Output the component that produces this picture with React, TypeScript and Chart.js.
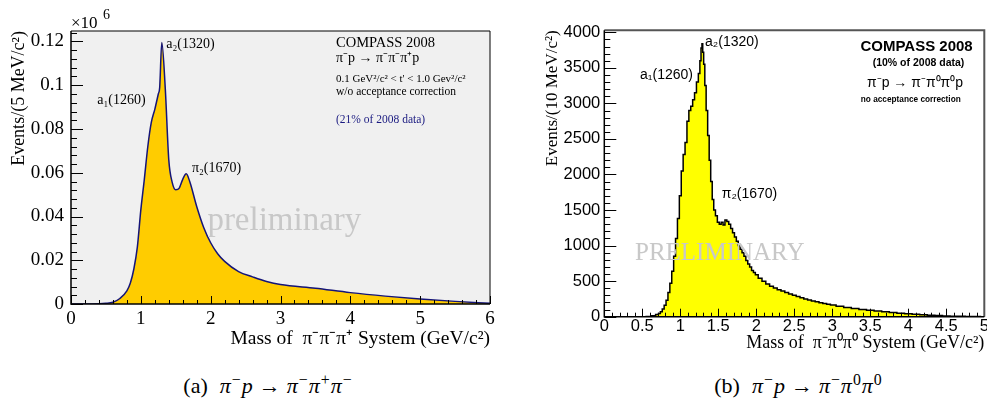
import React, { useEffect, useRef } from "react";
import { Chart, registerables } from "chart.js";
Chart.register(...registerables);

const SERIF = "'Liberation Serif', 'Times New Roman', serif";
const SANS = "'Liberation Sans', Arial, sans-serif";

// ---- Panel (a): pi- p -> pi- pi+ pi-  (events per 5 MeV/c^2, in units of 10^6)
const leftMass = [0, 0.3, 0.5, 0.6, 0.7, 0.8, 0.85, 0.9, 0.95, 1.0, 1.05, 1.1, 1.15, 1.2, 1.25, 1.27, 1.3, 1.35, 1.4, 1.45, 1.5, 1.55, 1.6, 1.65, 1.7, 1.8, 1.9, 2.0, 2.1, 2.2, 2.4, 2.6, 2.8, 3.0, 3.5, 4.0, 4.5, 5.0, 5.5, 6.0];
const leftEvents = [0, 0, 0.0003, 0.0008, 0.0025, 0.006, 0.0096, 0.016, 0.026, 0.043, 0.057, 0.072, 0.083, 0.089, 0.096, 0.099, 0.1195, 0.0985, 0.066, 0.0555, 0.0522, 0.053, 0.057, 0.0595, 0.056, 0.0446, 0.035, 0.028, 0.023, 0.0195, 0.0148, 0.0124, 0.0103, 0.0089, 0.0072, 0.0052, 0.0036, 0.0023, 0.0012, 0.0003];
const leftXTicks = [0, 1, 2, 3, 4, 5, 6];
const leftYTicks = [0, 0.02, 0.04, 0.06, 0.08, 0.1, 0.12];

// ---- Panel (b): pi- p -> pi- pi0 pi0  (events per 10 MeV/c^2)
const rightMass = [0, 0.5, 0.6, 0.65, 0.7, 0.725, 0.75, 0.775, 0.8, 0.825, 0.85, 0.875, 0.9, 0.925, 0.95, 0.975, 1.0, 1.025, 1.05, 1.075, 1.1, 1.125, 1.15, 1.175, 1.2, 1.225, 1.25, 1.265, 1.28, 1.29, 1.3, 1.315, 1.33, 1.35, 1.37, 1.39, 1.41, 1.43, 1.45, 1.475, 1.5, 1.525, 1.55, 1.575, 1.6, 1.625, 1.65, 1.675, 1.7, 1.725, 1.75, 1.775, 1.8, 1.825, 1.85, 1.875, 1.9, 1.925, 1.95, 1.975, 2.0, 2.05, 2.1, 2.15, 2.2, 2.25, 2.3, 2.35, 2.4, 2.45, 2.5, 2.55, 2.6, 2.65, 2.7, 2.75, 2.8, 2.85, 2.9, 2.95, 3.0, 3.1, 3.2, 3.3, 3.4, 3.5, 3.6, 3.7, 3.8, 3.9, 4.0, 4.1, 4.2, 4.3, 4.4, 4.5, 4.6, 4.7, 4.8, 4.9, 5.0];
const rightEvents = [0, 0, 3, 12, 30, 45, 70, 110, 160, 230, 340, 470, 640, 850, 1100, 1380, 1700, 2050, 2280, 2450, 2750, 2900, 2960, 3050, 3150, 3300, 3420, 3600, 3780, 3840, 3720, 3550, 3250, 2900, 2550, 2200, 1900, 1650, 1500, 1420, 1330, 1300, 1330, 1290, 1360, 1340, 1300, 1240, 1180, 1120, 1060, 1000, 950, 900, 850, 790, 740, 700, 650, 620, 590, 540, 500, 460, 430, 405, 380, 360, 340, 320, 300, 285, 265, 250, 235, 222, 210, 195, 185, 175, 165, 148, 130, 115, 100, 90, 80, 70, 60, 50, 42, 35, 28, 22, 16, 11, 8, 5, 3, 2, 1];
const rightXTicks = [0, 0.5, 1, 1.5, 2, 2.5, 3, 3.5, 4, 4.5, 5];
const rightYTicks = [0, 500, 1000, 1500, 2000, 2500, 3000, 3500, 4000];

type Note = { text: string; x: number; y: number; font: string; color: string; align: CanvasTextAlign };

const leftNotes: Note[] = [
  { text: "a\u2082(1320)", x: 1.363, y: 0.1189, font: `14px ${SERIF}`, color: "#000", align: "left" },
  { text: "a\u2081(1260)", x: 0.376, y: 0.0933, font: `14px ${SERIF}`, color: "#000", align: "left" },
  { text: "\u03c0\u2082(1670)", x: 1.731, y: 0.0618, font: `14px ${SERIF}`, color: "#000", align: "left" },
  { text: "COMPASS 2008", x: 3.795, y: 0.1193, font: `14.5px ${SERIF}`, color: "#000", align: "left" },
  { text: "\u03c0\u207bp \u2192 \u03c0\u207b\u03c0\u207b\u03c0\u207ap", x: 3.795, y: 0.1125, font: `14px ${SERIF}`, color: "#000", align: "left" },
  { text: "0.1 GeV\u00b2/c\u00b2 < t' < 1.0 Gev\u00b2/c\u00b2", x: 3.795, y: 0.1029, font: `11px ${SERIF}`, color: "#000", align: "left" },
  { text: "w/o acceptance correction", x: 3.795, y: 0.0969, font: `11.5px ${SERIF}`, color: "#000", align: "left" },
  { text: "(21% of 2008 data)", x: 3.795, y: 0.0841, font: `11.5px ${SERIF}`, color: "#1a1a80", align: "left" },
];
const rightNotes: Note[] = [
  { text: "a\u2082(1320)", x: 1.325, y: 3858, font: `14px ${SANS}`, color: "#000", align: "left" },
  { text: "a\u2081(1260)", x: 0.47, y: 3403, font: `14px ${SANS}`, color: "#000", align: "left" },
  { text: "\u03c0\u2082(1670)", x: 1.545, y: 1728, font: `14px ${SANS}`, color: "#000", align: "left" },
  { text: "COMPASS 2008", x: 4.847, y: 3802, font: `bold 15px ${SANS}`, color: "#000", align: "right" },
  { text: "(10% of 2008 data)", x: 4.737, y: 3572, font: `bold 10.5px ${SANS}`, color: "#000", align: "right" },
  { text: "\u03c0\u207bp \u2192 \u03c0\u207b\u03c0\u2070\u03c0\u2070p", x: 4.72, y: 3291, font: `14px ${SANS}`, color: "#000", align: "right" },
  { text: "no acceptance correction", x: 4.69, y: 3051, font: `bold 8.25px ${SANS}`, color: "#000", align: "right" },
];

type PanelStyle = {
  plotBg?: string;
  notes: Note[];
  watermark: Note;
  xStep: number; xSub: number; xMajor: number; xMinor: number;
  yStep: number; ySub: number; yMajor: number; yMinor: number;
  frameColor: string; axisColor: string; frameWidth: number;
  exponent?: boolean;
};

function rootPlugin(st: PanelStyle) {
  return {
    id: "rootStyle",
    beforeDraw(chart: any) {
      if (!st.plotBg) return;
      const { ctx, chartArea: a } = chart;
      ctx.save();
      ctx.fillStyle = st.plotBg;
      ctx.fillRect(a.left, a.top, a.right - a.left, a.bottom - a.top);
      ctx.restore();
    },
    afterDatasetsDraw(chart: any) {
      const { ctx, chartArea: a, scales } = chart;
      const xs = scales.x, ys = scales.y;
      ctx.save();
      const drawNote = (n: Note) => {
        ctx.font = n.font;
        ctx.fillStyle = n.color;
        ctx.textAlign = n.align;
        ctx.textBaseline = "middle";
        ctx.fillText(n.text, xs.getPixelForValue(n.x), ys.getPixelForValue(n.y));
      };
      drawNote(st.watermark);
      st.notes.forEach(drawNote);

      // inward ticks
      ctx.strokeStyle = st.axisColor;
      ctx.lineWidth = 1;
      ctx.beginPath();
      const xMinorStep = st.xStep / st.xSub;
      const nx = Math.round((xs.max - xs.min) / xMinorStep + 1e-6);
      for (let i = 0; i <= nx; i++) {
        const v = xs.min + i * xMinorStep;
        if (v > xs.max + 1e-9) break;
        const major = Math.abs(v / st.xStep - Math.round(v / st.xStep)) < 1e-6;
        const p = Math.round(xs.getPixelForValue(v)) + 0.5;
        ctx.moveTo(p, a.bottom);
        ctx.lineTo(p, a.bottom - (major ? st.xMajor : st.xMinor));
      }
      const yMinorStep = st.yStep / st.ySub;
      const ny = Math.floor((ys.max - ys.min) / yMinorStep + 1e-6);
      for (let i = 0; i <= ny; i++) {
        const v = ys.min + i * yMinorStep;
        const major = Math.abs(v / st.yStep - Math.round(v / st.yStep)) < 1e-6;
        const p = Math.round(ys.getPixelForValue(v)) + 0.5;
        ctx.moveTo(a.left, p);
        ctx.lineTo(a.left + (major ? st.yMajor : st.yMinor), p);
      }
      ctx.stroke();

      // frame
      ctx.strokeStyle = st.frameColor;
      ctx.lineWidth = st.frameWidth;
      ctx.beginPath();
      ctx.moveTo(a.left, a.top);
      ctx.lineTo(a.right, a.top);
      ctx.lineTo(a.right, a.bottom);
      ctx.stroke();
      ctx.strokeStyle = st.axisColor;
      ctx.lineWidth = 1.5;
      ctx.beginPath();
      ctx.moveTo(a.left, a.top);
      ctx.lineTo(a.left, a.bottom);
      ctx.lineTo(a.right, a.bottom);
      ctx.stroke();

      if (st.exponent) {
        ctx.fillStyle = "#000";
        ctx.textAlign = "left";
        ctx.textBaseline = "alphabetic";
        ctx.font = `17px ${SERIF}`;
        ctx.fillText("\u00d710", a.left, a.top - 3);
        ctx.font = `14px ${SERIF}`;
        ctx.fillText("6", a.left + 32, a.top - 12);
      }
      ctx.restore();
    },
  };
}

function fmt(v: number) {
  return String(parseFloat(v.toFixed(4)));
}

function LeftPanel() {
  const ref = useRef<HTMLCanvasElement>(null);
  useEffect(() => {
    const chart = new Chart(ref.current as HTMLCanvasElement, {
      type: "line",
      data: {
        datasets: [
          {
            data: leftMass.map((x, i) => ({ x, y: leftEvents[i] })),
            borderColor: "#141478",
            borderWidth: 1.5,
            backgroundColor: "#ffcc00",
            fill: "origin",
            pointRadius: 0,
            cubicInterpolationMode: "monotone",
          } as any,
        ],
      },
      options: {
        animation: false,
        responsive: false,
        maintainAspectRatio: false,
        layout: { padding: { left: 0, top: 31, right: 5, bottom: 0 } },
        plugins: { legend: { display: false }, tooltip: { enabled: false } },
        scales: {
          x: {
            type: "linear",
            min: 0,
            max: 6,
            grid: { display: false, drawTicks: false },
            border: { display: false },
            afterBuildTicks: (s: any) => { s.ticks = leftXTicks.map((value) => ({ value })); },
            afterFit: (s: any) => { s.height = 51; s.paddingLeft = 0; s.paddingRight = 0; },
            ticks: { padding: 4, color: "#000", maxRotation: 0, autoSkip: false, font: { family: SERIF, size: 19 }, callback: (v: any) => fmt(Number(v)) },
            title: { display: true, text: "Mass of  \u03c0\u207b\u03c0\u207b\u03c0\u207a System (GeV/c\u00b2)", align: "end", color: "#000", font: { family: SERIF, size: 19.5 }, padding: { top: 0, bottom: 4.5 } },
          },
          y: {
            type: "linear",
            min: 0,
            max: 0.1248,
            grid: { display: false, drawTicks: false },
            border: { display: false },
            afterBuildTicks: (s: any) => { s.ticks = leftYTicks.map((value) => ({ value })); },
            afterFit: (s: any) => { s.width = 71; s.paddingTop = 0; s.paddingBottom = 0; },
            ticks: { padding: 7, color: "#000", autoSkip: false, font: { family: SERIF, size: 19 }, callback: (v: any) => fmt(Number(v)) },
            title: { display: true, text: "Events/(5 MeV/c\u00b2)", align: "end", color: "#000", font: { family: SERIF, size: 18 }, padding: { top: 8, bottom: 0 } },
          },
        },
      } as any,
      plugins: [
        rootPlugin({
          plotBg: "#f0f0f0",
          notes: leftNotes,
          watermark: { text: "preliminary", x: 1.953, y: 0.0376, font: `33px ${SERIF}`, color: "#c8c8c8", align: "left" },
          xStep: 1, xSub: 5, xMajor: 8, xMinor: 4,
          yStep: 0.02, ySub: 5, yMajor: 12, yMinor: 6,
          frameColor: "#000", axisColor: "#000", frameWidth: 1,
          exponent: true,
        }),
      ],
    });
    return () => chart.destroy();
  }, []);
  return <canvas ref={ref} width={495} height={355} style={{ position: "absolute", left: 0, top: 0 }} />;
}

function RightPanel() {
  const ref = useRef<HTMLCanvasElement>(null);
  useEffect(() => {
    const chart = new Chart(ref.current as HTMLCanvasElement, {
      type: "line",
      data: {
        datasets: [
          {
            data: rightMass.map((x, i) => ({ x, y: rightEvents[i] })),
            borderColor: "#000",
            borderWidth: 1.5,
            backgroundColor: "#ffff00",
            fill: "origin",
            pointRadius: 0,
            stepped: "middle",
          } as any,
        ],
      },
      options: {
        animation: false,
        responsive: false,
        maintainAspectRatio: false,
        layout: { padding: { left: 0, top: 30.3, right: 2.7, bottom: 0 } },
        plugins: { legend: { display: false }, tooltip: { enabled: false } },
        scales: {
          x: {
            type: "linear",
            min: 0,
            max: 5,
            grid: { display: false, drawTicks: false },
            border: { display: false },
            afterBuildTicks: (s: any) => { s.ticks = rightXTicks.map((value) => ({ value })); },
            afterFit: (s: any) => { s.height = 43.3; s.paddingLeft = 0; s.paddingRight = 0; },
            ticks: { padding: 0, color: "#000", maxRotation: 0, autoSkip: false, font: { family: SANS, size: 16.5 }, callback: (v: any) => fmt(Number(v)) },
            title: { display: true, text: "Mass of  \u03c0\u207b\u03c0\u2070\u03c0\u2070 System (GeV/c\u00b2)", align: "end", color: "#000", font: { family: SERIF, size: 18 }, padding: { top: 0, bottom: 6 } },
          },
          y: {
            type: "linear",
            min: 0,
            max: 4028,
            grid: { display: false, drawTicks: false },
            border: { display: false },
            afterBuildTicks: (s: any) => { s.ticks = rightYTicks.map((value) => ({ value })); },
            afterFit: (s: any) => { s.width = 109.3; s.paddingTop = 0; s.paddingBottom = 0; },
            ticks: { padding: 4, color: "#000", autoSkip: false, font: { family: SANS, size: 16.5 }, callback: (v: any) => fmt(Number(v)) },
            title: { display: true, text: "Events/(10 MeV/c\u00b2)", align: "end", color: "#000", font: { family: SERIF, size: 17 }, padding: { top: 47, bottom: 0 } },
          },
        },
      } as any,
      plugins: [
        rootPlugin({
          notes: rightNotes,
          watermark: { text: "PRELIMINARY", x: 0.404, y: 893, font: `25px ${SERIF}`, color: "#c8c8c8", align: "left" },
          xStep: 0.5, xSub: 5, xMajor: 8, xMinor: 4,
          yStep: 500, ySub: 5, yMajor: 12, yMinor: 6,
          frameColor: "#555", axisColor: "#000", frameWidth: 2,
        }),
      ],
    });
    return () => chart.destroy();
  }, []);
  return <canvas ref={ref} width={492} height={360} style={{ position: "absolute", left: 495, top: 0 }} />;
}

const supStyle: React.CSSProperties = { fontSize: "72%", verticalAlign: "0.5em", fontStyle: "normal", marginLeft: 1, marginRight: 1 };
const gap = (w: number) => <span style={{ display: "inline-block", width: w }} />;

function Caption(props: { label: string; signs: string[]; left: number; width: number }) {
  const [s1, s2, s3] = props.signs;
  return (
    <div style={{ position: "absolute", left: props.left, width: props.width, top: 367, textAlign: "center", fontFamily: SERIF, fontSize: 22, lineHeight: "26px", color: "#000", whiteSpace: "nowrap" }}>
      {props.label}{gap(12)}<i>π</i><span style={supStyle}>−</span><i>p</i>{gap(6)}→{gap(6)}<i>π</i><span style={supStyle}>−</span><i>π</i><span style={supStyle}>{s1}</span><i>π</i><span style={supStyle}>{s2}</span>{s3}
    </div>
  );
}

export default function App() {
  return (
    <div style={{ position: "absolute", left: 0, top: 0, width: 987, height: 400, background: "#fff", overflow: "hidden" }}>
      <LeftPanel />
      <RightPanel />
      <Caption label="(a)" signs={["+", "−", ""]} left={0} width={536} />
      <Caption label="(b)" signs={["0", "0", ""]} left={600} width={397} />
    </div>
  );
}
